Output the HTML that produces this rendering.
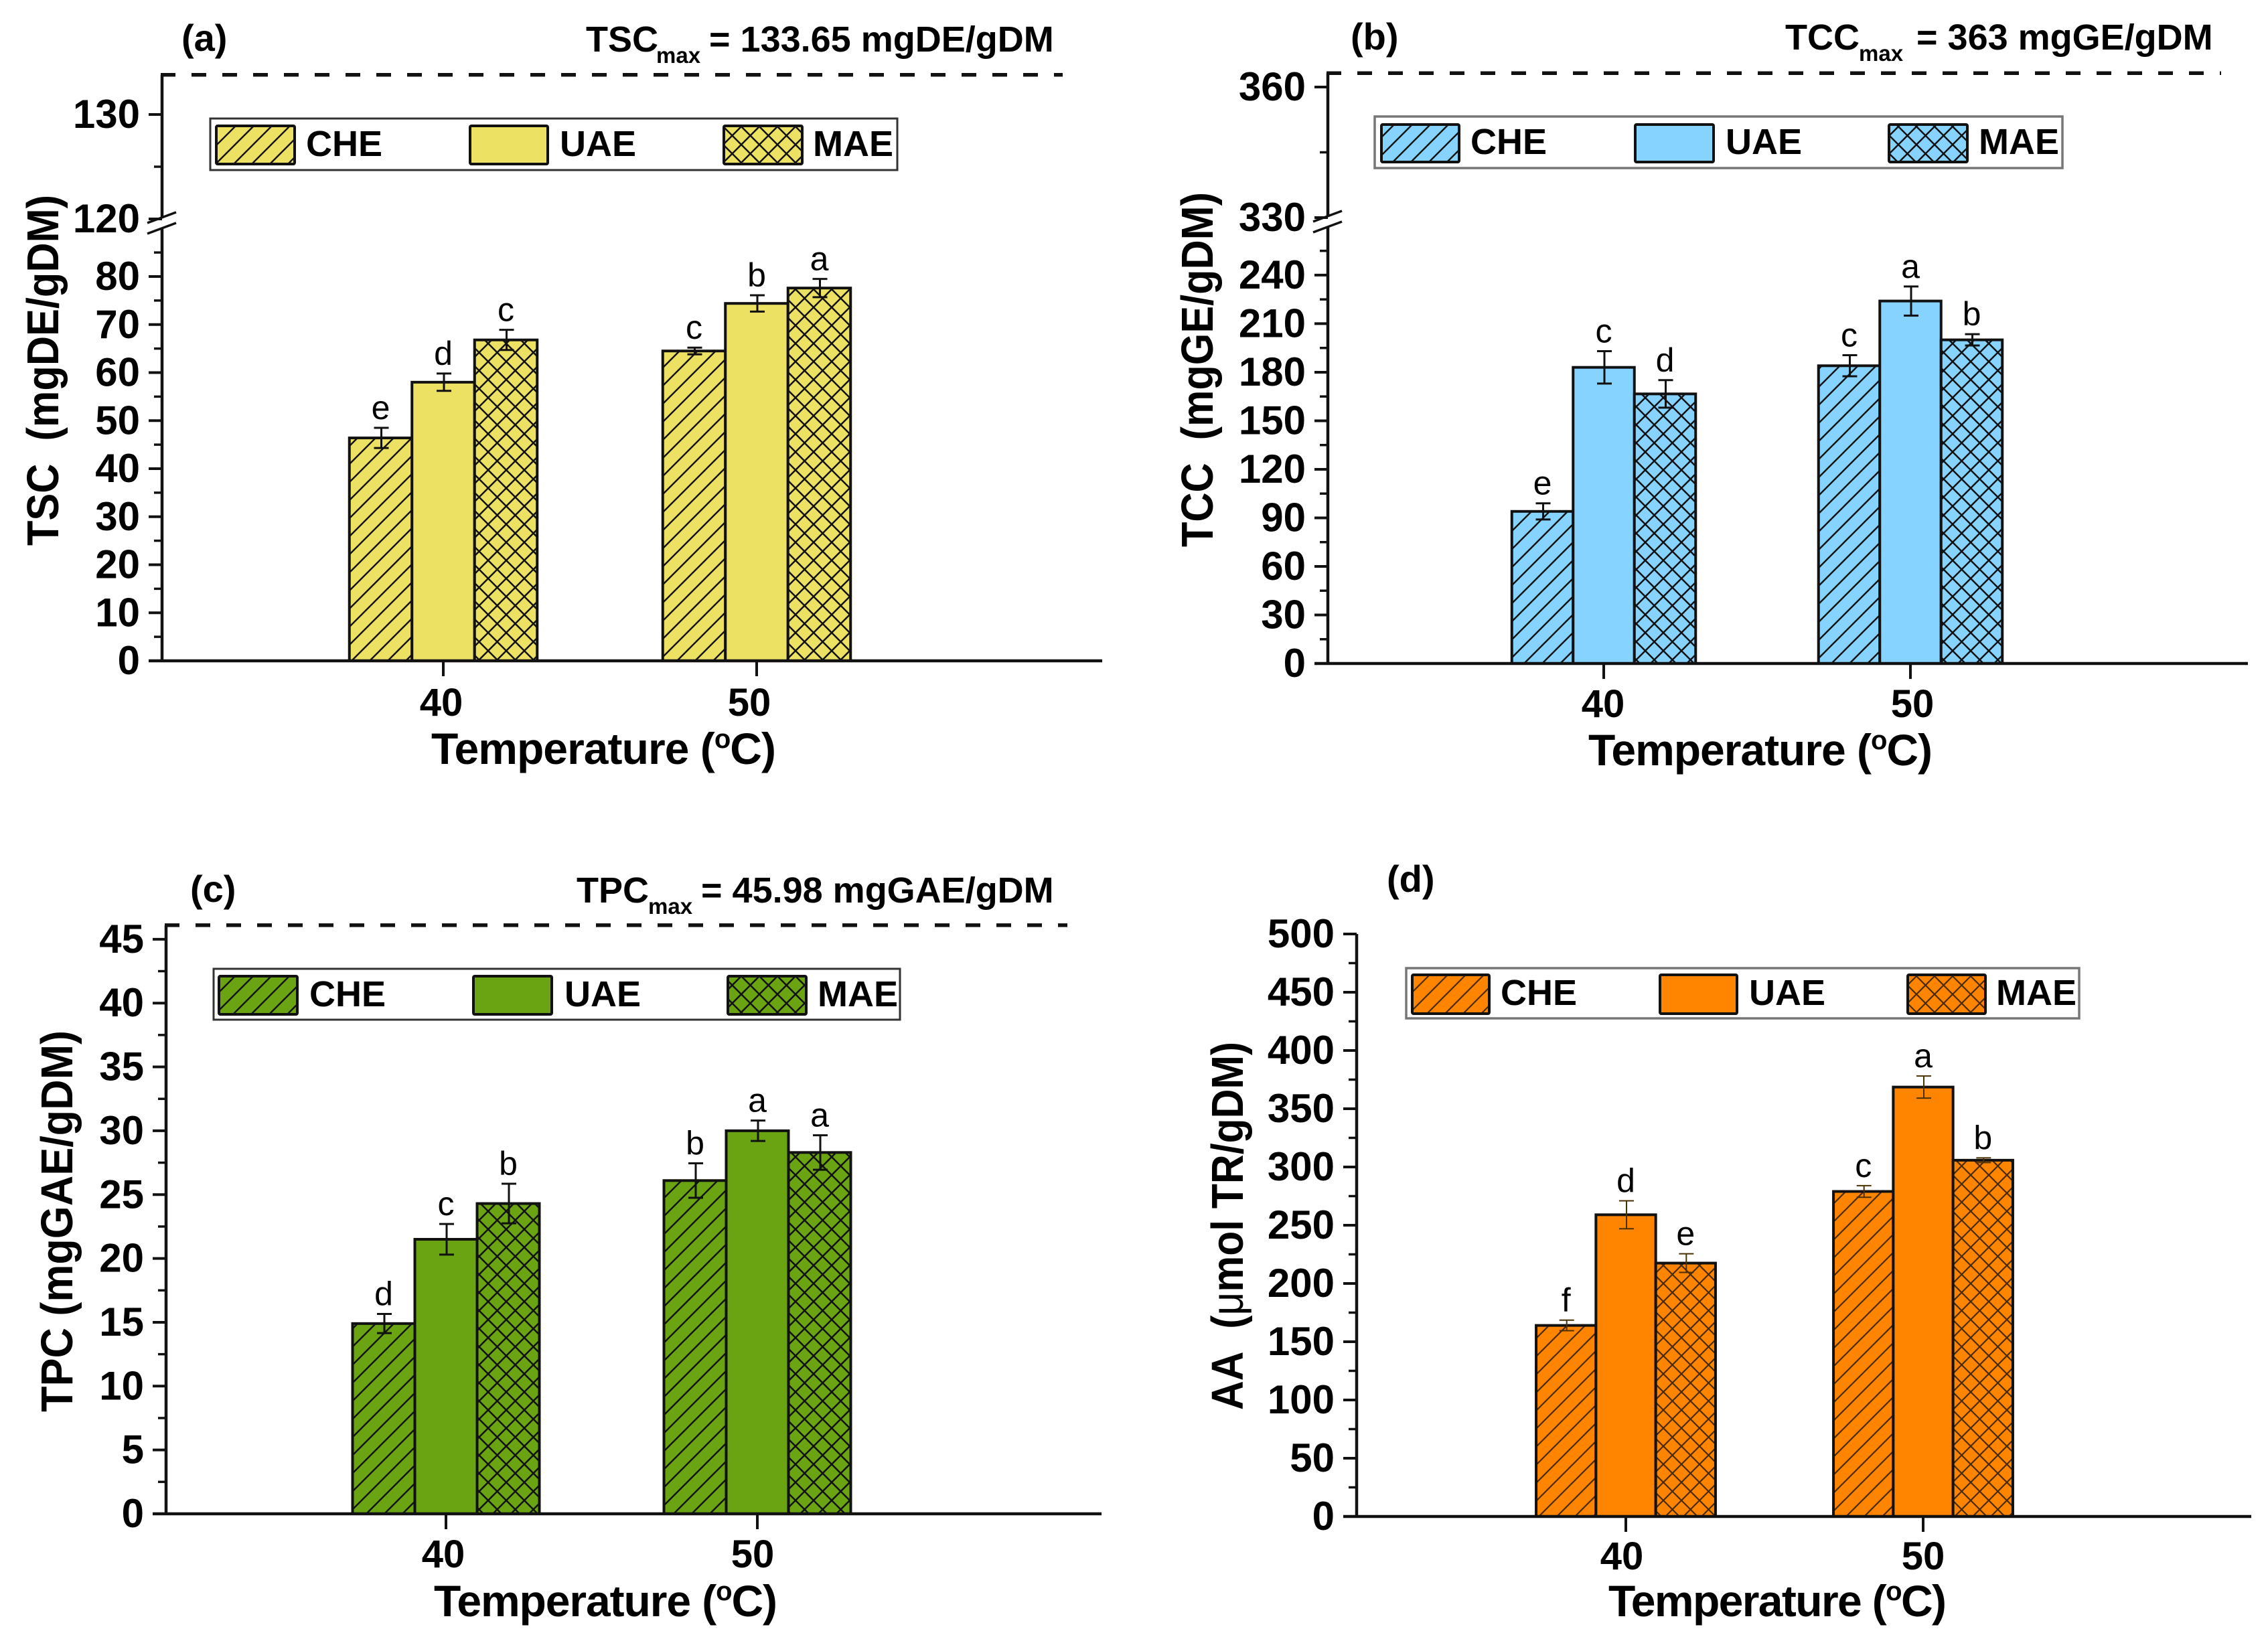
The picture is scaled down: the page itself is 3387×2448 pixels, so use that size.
<!DOCTYPE html>
<html lang="en">
<head>
<meta charset="utf-8">
<title>TSC, TCC, TPC and AA by temperature and extraction method</title>
<style>
html,body{margin:0;padding:0;background:#fff;}
svg{display:block;}
text{font-family:"Liberation Sans",sans-serif;fill:#000;}
.bold{font-weight:bold;}
.ytitle{font-size:67px;font-weight:bold;text-anchor:middle;}
.xtitle{font-size:66px;font-weight:bold;}
.note{font-size:54px;font-weight:bold;}
.sub{font-size:33px;font-weight:bold;}
.plabel{font-size:56px;font-weight:bold;}
.leg{font-size:54px;font-weight:bold;}
.lbox{fill:#fff;stroke:#333;stroke-width:3;}
.lbox-soft{fill:#fff;stroke:#777;stroke-width:3.5;}
.swatch{stroke:#111;stroke-width:4;}
</style>
</head>
<body>
<svg id="figure" xmlns="http://www.w3.org/2000/svg" width="3387" height="2448" viewBox="0 0 3387 2448">
<defs>
<pattern id="che-a" patternUnits="userSpaceOnUse" width="27" height="27"><rect width="27" height="27" fill="#EDE164"/><path d="M-3,30L30,-3M-3,3L3,-3M24,30L30,24" stroke="#111" stroke-width="2.4"/></pattern>
<pattern id="mae-a" patternUnits="userSpaceOnUse" width="27" height="27"><rect width="27" height="27" fill="#EDE164"/><path d="M-3,30L30,-3M-3,-3L30,30" stroke="#111" stroke-width="2.5"/></pattern>
<pattern id="che-b" patternUnits="userSpaceOnUse" width="27" height="27"><rect width="27" height="27" fill="#87D3FF"/><path d="M-3,30L30,-3M-3,3L3,-3M24,30L30,24" stroke="#111" stroke-width="2.4"/></pattern>
<pattern id="mae-b" patternUnits="userSpaceOnUse" width="27" height="27"><rect width="27" height="27" fill="#87D3FF"/><path d="M-3,30L30,-3M-3,-3L30,30" stroke="#111" stroke-width="2.5"/></pattern>
<pattern id="che-c" patternUnits="userSpaceOnUse" width="27" height="27"><rect width="27" height="27" fill="#6BA412"/><path d="M-3,30L30,-3M-3,3L3,-3M24,30L30,24" stroke="#111" stroke-width="2.4"/></pattern>
<pattern id="mae-c" patternUnits="userSpaceOnUse" width="27" height="27"><rect width="27" height="27" fill="#6BA412"/><path d="M-3,30L30,-3M-3,-3L30,30" stroke="#111" stroke-width="2.5"/></pattern>
<pattern id="che-d" patternUnits="userSpaceOnUse" width="27" height="27"><rect width="27" height="27" fill="#FF8500"/><path d="M-3,30L30,-3M-3,3L3,-3M24,30L30,24" stroke="#4a2a00" stroke-width="2.2"/></pattern>
<pattern id="mae-d" patternUnits="userSpaceOnUse" width="27" height="27"><rect width="27" height="27" fill="#FF8500"/><path d="M-3,30L30,-3M-3,-3L30,30" stroke="#4a2a00" stroke-width="2.2"/></pattern>
</defs>
<rect width="3387" height="2448" fill="#fff"/>

<!-- Panel (a) static text -->
<g>
<text class="plabel" x="271" y="76">(a)</text>
<text x="875" y="77"><tspan class="note">TSC</tspan><tspan class="sub" x="980" y="94">max</tspan><tspan class="note" x="1059" y="77">= 133.65 mgDE/gDM</tspan></text>
<text class="ytitle" transform="translate(87,553) rotate(-90)" textLength="524" lengthAdjust="spacingAndGlyphs">TSC&#160;&#160;(mgDE/gDM)</text>
<text class="xtitle" x="644" y="1141" textLength="515" lengthAdjust="spacing">Temperature (<tspan font-size="40" dy="-24">o</tspan><tspan dy="24">C)</tspan></text>
</g>
<g>
<rect class="lbox" x="314" y="177" width="1026" height="77"/>
<rect class="swatch" x="323" y="188" width="117" height="57" rx="2" fill="url(#che-a)"/>
<text class="leg" x="457" y="233">CHE</text>
<rect class="swatch" x="702" y="188" width="116" height="57" rx="2" fill="#EDE164"/>
<text class="leg" x="836" y="233">UAE</text>
<rect class="swatch" x="1081" y="188" width="117" height="57" rx="2" fill="url(#mae-a)"/>
<text class="leg" x="1214" y="233">MAE</text>
</g>

<!-- Panel (b) static text -->
<g>
<text class="plabel" x="2017" y="74">(b)</text>
<text x="2666" y="74"><tspan class="note">TCC</tspan><tspan class="sub" x="2776" y="91">max</tspan><tspan class="note" x="2862" y="74">= 363 mgGE/gDM</tspan></text>
<text class="ytitle" transform="translate(1811,552) rotate(-90)" textLength="530" lengthAdjust="spacingAndGlyphs">TCC&#160;&#160;(mgGE/gDM)</text>
<text class="xtitle" x="2372" y="1143" textLength="514" lengthAdjust="spacing">Temperature (<tspan font-size="40" dy="-24">o</tspan><tspan dy="24">C)</tspan></text>
</g>
<g>
<rect class="lbox-soft" x="2053" y="174" width="1027" height="77"/>
<rect class="swatch" x="2063" y="186" width="116" height="56" rx="2" fill="url(#che-b)"/>
<text class="leg" x="2196" y="230">CHE</text>
<rect class="swatch" x="2442" y="186" width="117" height="56" rx="2" fill="#87D3FF"/>
<text class="leg" x="2577" y="230">UAE</text>
<rect class="swatch" x="2821" y="186" width="117" height="56" rx="2" fill="url(#mae-b)"/>
<text class="leg" x="2955" y="230">MAE</text>
</g>

<!-- Panel (c) static text -->
<g>
<text class="plabel" x="284" y="1347">(c)</text>
<text x="861" y="1348"><tspan class="note">TPC</tspan><tspan class="sub" x="968" y="1365">max</tspan><tspan class="note" x="1047" y="1348">= 45.98 mgGAE/gDM</tspan></text>
<text class="ytitle" transform="translate(108,1824) rotate(-90)" textLength="570" lengthAdjust="spacingAndGlyphs">TPC (mgGAE/gDM)</text>
<text class="xtitle" x="648" y="2414" textLength="513" lengthAdjust="spacing">Temperature (<tspan font-size="40" dy="-24">o</tspan><tspan dy="24">C)</tspan></text>
</g>
<g>
<rect class="lbox" x="319" y="1447" width="1025" height="76"/>
<rect class="swatch" x="327" y="1458" width="117" height="57" rx="2" fill="url(#che-c)"/>
<text class="leg" x="462" y="1503">CHE</text>
<rect class="swatch" x="707" y="1458" width="117" height="57" rx="2" fill="#6BA412"/>
<text class="leg" x="843" y="1503">UAE</text>
<rect class="swatch" x="1087" y="1458" width="117" height="57" rx="2" fill="url(#mae-c)"/>
<text class="leg" x="1221" y="1503">MAE</text>
</g>

<!-- Panel (d) static text -->
<g>
<text class="plabel" x="2071" y="1332">(d)</text>
<text class="ytitle" transform="translate(1856,1831) rotate(-90)" textLength="550" lengthAdjust="spacingAndGlyphs">AA&#160;&#160;(<tspan font-weight="normal">μ</tspan>mol TR/gDM)</text>
<text class="xtitle" x="2402" y="2414" textLength="505" lengthAdjust="spacing">Temperature (<tspan font-size="40" dy="-24">o</tspan><tspan dy="24">C)</tspan></text>
</g>
<g>
<rect class="lbox-soft" x="2100" y="1446" width="1005" height="75"/>
<rect class="swatch" x="2109" y="1456" width="115" height="58" rx="2" fill="url(#che-d)"/>
<text class="leg" x="2241" y="1501">CHE</text>
<rect class="swatch" x="2479" y="1456" width="115" height="58" rx="2" fill="#FF8500"/>
<text class="leg" x="2612" y="1501">UAE</text>
<rect class="swatch" x="2849" y="1456" width="116" height="58" rx="2" fill="url(#mae-d)"/>
<text class="leg" x="2981" y="1501">MAE</text>
</g>

<g id="plots"></g>
</svg>

<script>
// Shared categories
const temperatures = [40, 50];
const methods = ['CHE', 'UAE', 'MAE'];

// Panel (a) TSC
const tscChe = [46.4, 64.5];
const tscUae = [58.0, 74.4];
const tscMae = [66.8, 77.6];
const tscCheErr = [2.1, 0.7];
const tscUaeErr = [1.8, 1.7];
const tscMaeErr = [2.1, 1.9];
const tscCheLetters = ['e', 'c'];
const tscUaeLetters = ['d', 'b'];
const tscMaeLetters = ['c', 'a'];
const tscMajorTicks = [0, 10, 20, 30, 40, 50, 60, 70, 80, 120, 130];
const tscMinorTicks = [5, 15, 25, 35, 45, 55, 65, 75, 85, 125];
const tscMax = [133.8];

// Panel (b) TCC
const tccChe = [94, 184];
const tccUae = [183, 224];
const tccMae = [166.6, 200];
const tccCheErr = [5, 6.5];
const tccUaeErr = [10, 9];
const tccMaeErr = [8.5, 3.5];
const tccCheLetters = ['e', 'c'];
const tccUaeLetters = ['c', 'a'];
const tccMaeLetters = ['d', 'b'];
const tccMajorTicks = [0, 30, 60, 90, 120, 150, 180, 210, 240, 330, 360];
const tccMinorTicks = [15, 45, 75, 105, 135, 165, 195, 225, 255, 345];
const tccMax = [363.2];

// Panel (c) TPC
const tpcChe = [14.9, 26.1];
const tpcUae = [21.5, 30.0];
const tpcMae = [24.3, 28.3];
const tpcCheErr = [0.75, 1.35];
const tpcUaeErr = [1.2, 0.8];
const tpcMaeErr = [1.55, 1.35];
const tpcCheLetters = ['d', 'b'];
const tpcUaeLetters = ['c', 'a'];
const tpcMaeLetters = ['b', 'a'];
const tpcMajorTicks = [0, 5, 10, 15, 20, 25, 30, 35, 40, 45];
const tpcMinorTicks = [2.5, 7.5, 12.5, 17.5, 22.5, 27.5, 32.5, 37.5, 42.5];
const tpcMax = [46.1];

// Panel (d) AA
const aaChe = [164, 279];
const aaUae = [259, 368.6];
const aaMae = [217.5, 305.8];
const aaCheErr = [4.5, 5];
const aaUaeErr = [12, 9.5];
const aaMaeErr = [8, 2];
const aaCheLetters = ['f', 'c'];
const aaUaeLetters = ['d', 'a'];
const aaMaeLetters = ['e', 'b'];
const aaMajorTicks = [0, 50, 100, 150, 200, 250, 300, 350, 400, 450, 500];
const aaMinorTicks = [25, 75, 125, 175, 225, 275, 325, 375, 425, 475];
const aaMax = [];

const SVGNS = 'http://www.w3.org/2000/svg';
const root = document.getElementById('plots');

function add(parent, tag, attrs) {
  const node = document.createElementNS(SVGNS, tag);
  for (const key in attrs) node.setAttribute(key, attrs[key]);
  parent.appendChild(node);
  return node;
}

function yScale(p, v) {
  if (p.upperBase !== undefined && v >= p.upperBase) {
    return p.upperY - (v - p.upperBase) * p.upperK;
  }
  return p.baseY - v * p.k;
}

function xScale(p, t) {
  return p.x40 + (t - temperatures[0]) * p.xPerDegree;
}

function drawAxes(p, g) {
  const axisTop = p.maxValues.length ? yScale(p, p.maxValues[0]) : yScale(p, p.majorTicks[p.majorTicks.length - 1]);
  const axisAttrs = { stroke: '#111', 'stroke-width': 4.5, fill: 'none' };
  if (p.upperBase !== undefined) {
    const lower = add(g, 'line', Object.assign({ x1: p.axisX, x2: p.axisX, y1: p.baseY, y2: p.gapBottom }, axisAttrs));
    
    
    const upper = add(g, 'line', Object.assign({ x1: p.axisX, x2: p.axisX, y1: p.gapTop, y2: axisTop }, axisAttrs));
    
    
    [0, 16].forEach(function (offset) {
      const slash = add(g, 'line', { x1: p.axisX - 22, y1: p.gapTop + 8 + offset, x2: p.axisX + 21, y2: p.gapTop - 8 + offset, stroke: '#111', 'stroke-width': 3.5 });
      
      
    });
  } else {
    const axis = add(g, 'line', Object.assign({ x1: p.axisX, x2: p.axisX, y1: p.baseY, y2: axisTop }, axisAttrs));
    
    
  }
  const xAxis = add(g, 'line', Object.assign({ x1: p.axisX - 20, x2: p.axisEnd, y1: p.baseY, y2: p.baseY }, axisAttrs));
  
  

  p.majorTicks.forEach(function (v) {
    const y = yScale(p, v);
    const tick = add(g, 'line', { x1: p.axisX - 20, x2: p.axisX, y1: y, y2: y, stroke: '#111', 'stroke-width': 4 });
    
    
    const label = add(g, 'text', { x: p.axisX - 33, y: y + 20, 'text-anchor': 'end', 'font-size': 60, 'font-weight': 'bold' });
    label.textContent = String(v);
    
    
  });
  p.minorTicks.forEach(function (v) {
    const y = yScale(p, v);
    const tick = add(g, 'line', { x1: p.axisX - 12, x2: p.axisX, y1: y, y2: y, stroke: '#111', 'stroke-width': 3.5 });
    
    
  });
  temperatures.forEach(function (t) {
    const x = xScale(p, t);
    const tick = add(g, 'line', { x1: x, x2: x, y1: p.baseY, y2: p.baseY + 23, stroke: '#111', 'stroke-width': 4 });
    
    
    const label = add(g, 'text', { x: x + (t === temperatures[0] ? p.label40Shift : p.label50Shift), y: p.xLabelY, 'text-anchor': 'middle', 'font-size': 58, 'font-weight': 'bold' });
    label.textContent = String(t);
    
    
  });
  p.maxValues.forEach(function (v) {
    const y = yScale(p, v);
    const dash = add(g, 'line', { x1: p.axisX - 2, x2: p.dashEnd, y1: y, y2: y, stroke: '#111', 'stroke-width': 5.5, 'stroke-dasharray': '22 24' });
    
    
  });
}

function drawSeries(p, g, s) {
  temperatures.forEach(function (t, i) {
    const cx = xScale(p, t) + (s - 1) * p.barW;
    const v = p.values[s][i];
    const top = yScale(p, v);
    const bar = add(g, 'rect', { x: cx - p.barW / 2, y: top, width: p.barW, height: p.baseY - top, fill: p.fills[s], stroke: '#111', 'stroke-width': 4 });
    
    
  });
}

function drawErrors(p, g, s) {
  temperatures.forEach(function (t, i) {
    const cx = xScale(p, t) + (s - 1) * p.barW + 1;
    const v = p.values[s][i];
    const e = p.errors[s][i];
    const hi = yScale(p, v + e);
    const lo = yScale(p, v - e);
    const bar = add(g, 'path', { d: 'M' + (cx - 11) + ',' + hi + 'H' + (cx + 11) + 'M' + cx + ',' + hi + 'V' + lo + 'M' + (cx - 11) + ',' + lo + 'H' + (cx + 11), fill: 'none', stroke: p.errColor, 'stroke-width': p.errWidth });
    
    
    const letter = add(g, 'text', { x: cx - 1, y: hi - 13, 'text-anchor': 'middle', 'font-size': 50 });
    letter.textContent = p.letters[s][i];
    
    
  });
}

function drawPanel(p) {
  const g = add(root, 'g', {});
  
  
  for (let s = 0; s < methods.length; s++) drawSeries(p, g, s);
  drawAxes(p, g);
  for (let s = 0; s < methods.length; s++) drawErrors(p, g, s);
}

drawPanel({
  id: 'a', axisX: 242, axisEnd: 1646, dashEnd: 1587, baseY: 987, k: 7.175,
  upperBase: 120, upperY: 327, upperK: 15.6, gapTop: 325, gapBottom: 342,
  x40: 662, xPerDegree: 46.8, barW: 93.5, xLabelY: 1069, label40Shift: -3, label50Shift: -11,
  values: [tscChe, tscUae, tscMae], errors: [tscCheErr, tscUaeErr, tscMaeErr],
  letters: [tscCheLetters, tscUaeLetters, tscMaeLetters],
  majorTicks: tscMajorTicks, minorTicks: tscMinorTicks, maxValues: tscMax,
  fills: ['url(#che-a)', '#EDE164', 'url(#mae-a)'], errColor: '#111', errWidth: 3
});

drawPanel({
  id: 'b', axisX: 1983, axisEnd: 3357, dashEnd: 3317, baseY: 991, k: 2.417,
  upperBase: 330, upperY: 325, upperK: 6.5, gapTop: 323, gapBottom: 340,
  x40: 2395, xPerDegree: 45.8, barW: 91.5, xLabelY: 1071, label40Shift: -1, label50Shift: 3,
  values: [tccChe, tccUae, tccMae], errors: [tccCheErr, tccUaeErr, tccMaeErr],
  letters: [tccCheLetters, tccUaeLetters, tccMaeLetters],
  majorTicks: tccMajorTicks, minorTicks: tccMinorTicks, maxValues: tccMax,
  fills: ['url(#che-b)', '#87D3FF', 'url(#mae-b)'], errColor: '#111', errWidth: 3
});

drawPanel({
  id: 'c', axisX: 248, axisEnd: 1645, dashEnd: 1594, baseY: 2261, k: 19.07,
  x40: 666, xPerDegree: 46.5, barW: 93, xLabelY: 2341, label40Shift: -4, label50Shift: -7,
  values: [tpcChe, tpcUae, tpcMae], errors: [tpcCheErr, tpcUaeErr, tpcMaeErr],
  letters: [tpcCheLetters, tpcUaeLetters, tpcMaeLetters],
  majorTicks: tpcMajorTicks, minorTicks: tpcMinorTicks, maxValues: tpcMax,
  fills: ['url(#che-c)', '#6BA412', 'url(#mae-c)'], errColor: '#111', errWidth: 3
});

drawPanel({
  id: 'd', axisX: 2026, axisEnd: 3362, baseY: 2265, k: 1.74,
  x40: 2428, xPerDegree: 44.4, barW: 89.3, xLabelY: 2344, label40Shift: -6, label50Shift: 0,
  values: [aaChe, aaUae, aaMae], errors: [aaCheErr, aaUaeErr, aaMaeErr],
  letters: [aaCheLetters, aaUaeLetters, aaMaeLetters],
  majorTicks: aaMajorTicks, minorTicks: aaMinorTicks, maxValues: aaMax,
  fills: ['url(#che-d)', '#FF8500', 'url(#mae-d)'], errColor: '#4a3000', errWidth: 2
});
</script>
</body>
</html>
